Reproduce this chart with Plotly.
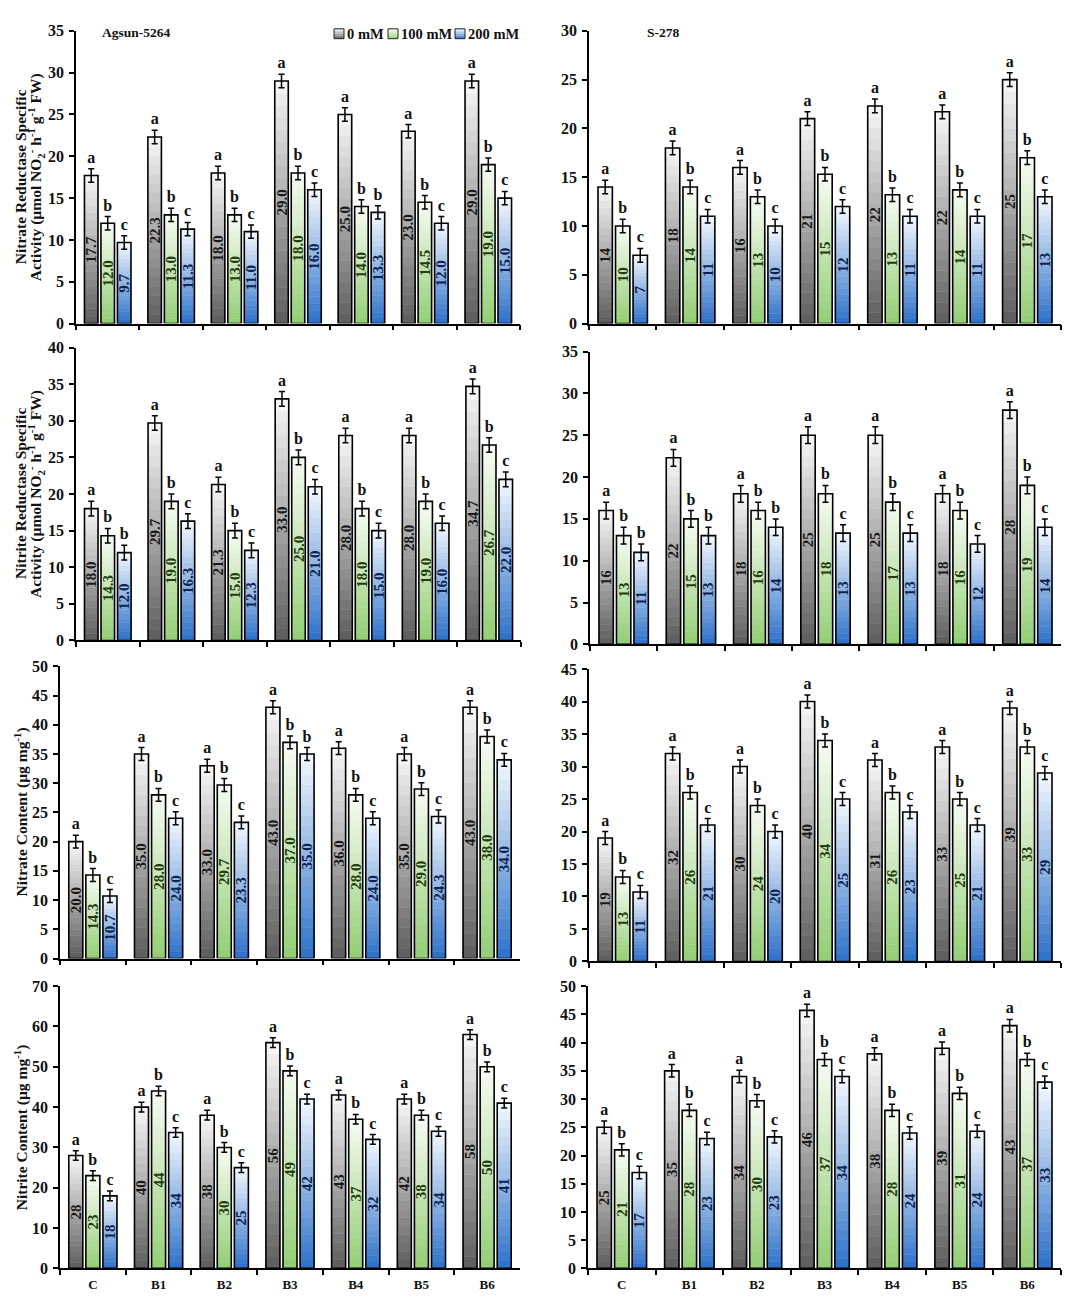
import plotly.graph_objects as go

# ---------------- data ----------------
CATEGORIES = ["C", "B1", "B2", "B3", "B4", "B5", "B6"]
SERIES = ["0 mM", "100 mM", "200 mM"]

# Nitrate reductase specific activity
AG_NR_0 = [17.7, 22.3, 18.0, 29.0, 25.0, 23.0, 29.0]
AG_NR_100 = [12.0, 13.0, 13.0, 18.0, 14.0, 14.5, 19.0]
AG_NR_200 = [9.7, 11.3, 11.0, 16.0, 13.3, 12.0, 15.0]
AG_NR_LET = [["a"] * 7, ["b"] * 7, ["c", "c", "c", "c", "b", "c", "c"]]

S_NR_0 = [14, 18, 16, 21, 22.3, 21.7, 25]
S_NR_100 = [10, 14, 13, 15.3, 13.2, 13.7, 17]
S_NR_200 = [7, 11, 10, 12, 11, 11, 13]
S_NR_LET = [["a"] * 7, ["b"] * 7, ["c"] * 7]

# Nitrite reductase specific activity
AG_NIR_0 = [18.0, 29.7, 21.3, 33.0, 28.0, 28.0, 34.7]
AG_NIR_100 = [14.3, 19.0, 15.0, 25.0, 18.0, 19.0, 26.7]
AG_NIR_200 = [12.0, 16.3, 12.3, 21.0, 15.0, 16.0, 22.0]
AG_NIR_LET = [["a"] * 7, ["b"] * 7, ["b", "c", "c", "c", "c", "c", "c"]]

S_NIR_0 = [16, 22.3, 18, 25, 25, 18, 28]
S_NIR_100 = [13, 15, 16, 18, 17, 16, 19]
S_NIR_200 = [11, 13, 14, 13.3, 13.3, 12, 14]
S_NIR_LET = [["a"] * 7, ["b"] * 7, ["b", "b", "b", "c", "c", "c", "c"]]

# Nitrate content
AG_NO3_0 = [20.0, 35.0, 33.0, 43.0, 36.0, 35.0, 43.0]
AG_NO3_100 = [14.3, 28.0, 29.7, 37.0, 28.0, 29.0, 38.0]
AG_NO3_200 = [10.7, 24.0, 23.3, 35.0, 24.0, 24.3, 34.0]
AG_NO3_LET = [["a"] * 7, ["b"] * 7, ["c", "c", "c", "b", "c", "c", "c"]]

S_NO3_0 = [19, 32, 30, 40, 31, 33, 39]
S_NO3_100 = [13, 26, 24, 34, 26, 25, 33]
S_NO3_200 = [10.7, 21, 20, 25, 23, 21, 29]
S_NO3_LET = [["a"] * 7, ["b"] * 7, ["c"] * 7]

# Nitrite content
AG_NO2_0 = [28, 40, 38, 56, 43, 42, 58]
AG_NO2_100 = [23, 44, 30, 49, 37, 38, 50]
AG_NO2_200 = [18, 33.7, 25, 42, 32, 34, 41]
AG_NO2_LET = [["a"] * 7, ["b"] * 7, ["c"] * 7]

S_NO2_0 = [25, 35, 34, 45.7, 38, 39, 43]
S_NO2_100 = [21, 28, 29.7, 37, 28, 31, 37]
S_NO2_200 = [17, 23, 23.3, 34, 24, 24.3, 33]
S_NO2_LET = [["a"] * 7, ["b"] * 7, ["c"] * 7]

# standard error per panel (read from error-bar length)
PANEL_SE = [0.8, 0.7, 1.0, 1.0, 1.1, 1.0, 1.2, 1.1]
Y_MAX = [35, 30, 40, 35, 50, 45, 70, 50]
Y_DTICK = [5, 5, 5, 5, 5, 5, 10, 5]

Y_TITLES = [
    ["Nitrate Reductase Specific",
     "Activity (µmol NO<sub>2</sub><sup>-</sup> h<sup>-1</sup> g<sup>-1</sup> FW)"],
    ["Nitrite Reductase Specific",
     "Activity (µmol NO<sub>2</sub><sup>-</sup> h<sup>-1</sup> g<sup>-1</sup> FW)"],
    ["Nitrate Content (µg mg<sup>-1</sup>)"],
    ["Nitrite Content (µg mg<sup>-1</sup>)"],
]
CULTIVARS = ["Agsun-5264", "S-278"]

PANELS = [
    ([AG_NR_0, AG_NR_100, AG_NR_200], AG_NR_LET, "<b>%{y:.1f}</b>"),
    ([S_NR_0, S_NR_100, S_NR_200], S_NR_LET, "<b>%{y:.0f}</b>"),
    ([AG_NIR_0, AG_NIR_100, AG_NIR_200], AG_NIR_LET, "<b>%{y:.1f}</b>"),
    ([S_NIR_0, S_NIR_100, S_NIR_200], S_NIR_LET, "<b>%{y:.0f}</b>"),
    ([AG_NO3_0, AG_NO3_100, AG_NO3_200], AG_NO3_LET, "<b>%{y:.1f}</b>"),
    ([S_NO3_0, S_NO3_100, S_NO3_200], S_NO3_LET, "<b>%{y:.0f}</b>"),
    ([AG_NO2_0, AG_NO2_100, AG_NO2_200], AG_NO2_LET, "<b>%{y:.0f}</b>"),
    ([S_NO2_0, S_NO2_100, S_NO2_200], S_NO2_LET, "<b>%{y:.0f}</b>"),
]

# ---------------- style ----------------
W, H = 1084, 1300
FONT = "Liberation Serif"
# panel plot areas in pixels: (x0, x1, ytop, ybottom)
DOMAINS = [
    (68, 512, 15, 311.7),
    (581, 1053, 15, 311.7),
    (68, 513, 336, 632.7),
    (582, 1053, 340, 636.7),
    (52, 512, 659, 955),
    (581, 1053, 661.7, 958),
    (52, 512, 983, 1269),
    (580, 1053, 983, 1269),
]
GRAD = [  # (bottom colour, top colour)
    ((92, 92, 92), (248, 248, 248)),
    ((146, 205, 115), (248, 252, 245)),
    ((44, 112, 200), (244, 249, 254)),
]
LABEL_COL = ["#1a1a1a", "#1f3d0e", "#0d2452"]
K = 20
# manual legend geometry (pixels): swatch left x, text left x
LEGEND_POS = [(326, 337), (380, 391), (447, 458)]
LEGEND_Y = 18


def mix(c0, c1, t):
    return "rgb(%d,%d,%d)" % tuple(round(a + (b - a) * t) for a, b in zip(c0, c1))


fig = go.Figure()

for i, (vals3, lets3, fmt) in enumerate(PANELS):
    xa = "x" if i == 0 else f"x{i + 1}"
    ya = "y" if i == 0 else f"y{i + 1}"
    se = PANEL_SE[i]
    for s in range(3):
        vals = vals3[s]
        bot, top = GRAD[s]
        for k in range(K):
            c = mix(bot, top, (k + 0.5) / K)
            fig.add_trace(go.Bar(
                x=CATEGORIES, y=[v / K for v in vals], base=[v * k / K for v in vals],
                offsetgroup=str(s), xaxis=xa, yaxis=ya,
                marker=dict(color=c, line=dict(color=c, width=0.6)),
                showlegend=False, hoverinfo="skip"))
        fig.add_trace(go.Bar(
            x=CATEGORIES, y=vals, offsetgroup=str(s), xaxis=xa, yaxis=ya,
            name=SERIES[s],
            marker=dict(color="rgba(0,0,0,0)", line=dict(color="black", width=1.6)),
            error_y=dict(type="data", array=[se] * len(vals), color="black",
                         thickness=1.5, width=3),
            texttemplate=fmt, textposition="inside", insidetextanchor="middle",
            textangle=-90, constraintext="none",
            textfont=dict(family=FONT, size=15, color=LABEL_COL[s]),
            showlegend=False, hoverinfo="skip"))
        fig.add_trace(go.Bar(
            x=CATEGORIES, y=[v + se for v in vals], offsetgroup=str(s),
            xaxis=xa, yaxis=ya,
            marker=dict(color="rgba(0,0,0,0)", line=dict(width=0)),
            text=["<b>" + t + "</b>" for t in lets3[s]], textposition="outside",
            textangle=0, constraintext="none", cliponaxis=False,
            textfont=dict(family=FONT, size=16, color="#111"),
            showlegend=False, hoverinfo="skip"))

layout = dict(
    width=W, height=H, autosize=False,
    margin=dict(l=0, r=0, t=0, b=0),
    paper_bgcolor="white", plot_bgcolor="white",
    barmode="group", bargap=0.22, bargroupgap=0.18,
    showlegend=False,
    font=dict(family=FONT, color="#111"),
)

annotations = []
shapes = []
for i, (x0, x1, yt, yb) in enumerate(DOMAINS):
    xn = "xaxis" if i == 0 else f"xaxis{i + 1}"
    yn = "yaxis" if i == 0 else f"yaxis{i + 1}"
    yid = "y" if i == 0 else f"y{i + 1}"
    xid = "x" if i == 0 else f"x{i + 1}"
    bottom_row = i >= 6
    layout[xn] = dict(
        domain=[x0 / W, x1 / W], anchor=yid, type="category",
        categoryorder="array", categoryarray=CATEGORIES,
        showline=True, linecolor="black", linewidth=1.5,
        ticks="outside", tickson="boundaries", ticklen=5, tickwidth=1.5,
        tickcolor="black", showgrid=False, zeroline=False,
        showticklabels=bottom_row, ticklabelstandoff=3,
        tickfont=dict(family=FONT, size=13, color="#111", weight="bold"))
    layout[yn] = dict(
        domain=[1 - yb / H, 1 - yt / H], anchor=xid,
        range=[0, Y_MAX[i]], dtick=Y_DTICK[i], tick0=0,
        showline=True, linecolor="black", linewidth=1.5,
        ticks="outside", ticklen=5, tickwidth=1.5, tickcolor="black",
        showgrid=False, zeroline=False, ticklabelstandoff=2,
        tickfont=dict(family=FONT, size=16, color="#111", weight="bold"))
    if i % 2 == 0:
        row = i // 2
        lines = Y_TITLES[row]
        xs = [12, 28] if len(lines) == 2 else [13]
        for xc, line in zip(xs, lines):
            annotations.append(dict(
                text="<b>" + line + "</b>", x=xc / W, y=1 - (yt + yb) / 2 / H,
                xref="paper", yref="paper", xanchor="center", yanchor="middle",
                textangle=-90, showarrow=False,
                font=dict(family=FONT, size=15.5, color="#111")))

annotations.append(dict(text="<b>" + CULTIVARS[0] + "</b>", x=92 / W, y=1 - 17 / H,
                        xref="paper", yref="paper", xanchor="left", yanchor="middle",
                        showarrow=False, font=dict(family=FONT, size=13.5, color="#111")))
annotations.append(dict(text="<b>" + CULTIVARS[1] + "</b>", x=637 / W, y=1 - 17 / H,
                        xref="paper", yref="paper", xanchor="left", yanchor="middle",
                        showarrow=False, font=dict(family=FONT, size=13.5, color="#111")))

# manual compact legend with gradient swatches
NBAND = 6
for s, (sx, tx) in enumerate(LEGEND_POS):
    bot, top = GRAD[s]
    y0p, y1p = LEGEND_Y + 5, LEGEND_Y - 5
    for b in range(NBAND):
        ya0 = y0p - (y0p - y1p) * b / NBAND
        ya1 = y0p - (y0p - y1p) * (b + 1) / NBAND
        c = mix(bot, top, (b + 0.5) / NBAND)
        shapes.append(dict(type="rect", xref="paper", yref="paper",
                           x0=sx / W, x1=(sx + 10) / W, y0=1 - ya0 / H, y1=1 - ya1 / H,
                           fillcolor=c, line=dict(width=0)))
    shapes.append(dict(type="rect", xref="paper", yref="paper",
                       x0=sx / W, x1=(sx + 10) / W, y0=1 - y0p / H, y1=1 - y1p / H,
                       fillcolor="rgba(0,0,0,0)", line=dict(color="#222", width=1)))
    annotations.append(dict(text="<b>" + SERIES[s] + "</b>", x=tx / W, y=1 - LEGEND_Y / H,
                            xref="paper", yref="paper", xanchor="left", yanchor="middle",
                            showarrow=False, font=dict(family=FONT, size=14.5, color="#111")))

layout["annotations"] = annotations
layout["shapes"] = shapes

fig.update_layout(**layout)
fig.write_html("out.html")
